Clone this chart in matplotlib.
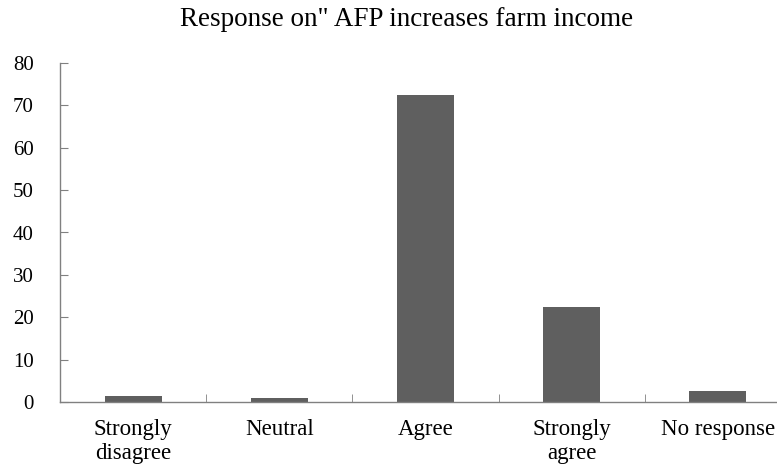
import matplotlib
matplotlib.use("Agg")
import matplotlib.pyplot as plt
import numpy as np

categories = ["Strongly\ndisagree", "Neutral", "Agree", "Strongly\nagree", "No response"]
values = [1.5, 1.0, 72.5, 22.5, 2.5]
yticks = [0, 10, 20, 30, 40, 50, 60, 70, 80]
title = "Response on\" AFP increases farm income"

plt.rcParams['font.family'] = ['Liberation Serif', 'DejaVu Serif']

W, H = 777, 469
fig = plt.figure(figsize=(W / 100, H / 100), dpi=100)
left, right, bottom, top = 60, 791, 402, 63
ax = fig.add_axes([left / W, (H - bottom) / H, (right - left) / W, (bottom - top) / H])

x = np.arange(len(categories))
ax.bar(x, values, width=0.39, color="#5f5f5f", zorder=2)
ax.set_xlim(-0.5, len(categories) - 0.5)
ax.set_ylim(0, 80)
ax.set_yticks(yticks)
ax.set_yticklabels([str(t) for t in yticks], fontsize=15)
ax.set_xticks(x)
ax.set_xticklabels(categories, fontsize=16.5, linespacing=1.2)
ax.set_xticks(np.arange(len(categories) - 1) + 0.5, minor=True)

ax.tick_params(axis='x', which='major', length=0, pad=12)
ax.tick_params(axis='x', which='minor', direction='in', length=6, color='#808080')
ax.tick_params(axis='y', direction='in', length=6, color='#808080', pad=19)
for lab in ax.get_yticklabels():
    lab.set_horizontalalignment('right')

for s in ['top', 'right']:
    ax.spines[s].set_visible(False)
for s in ['left', 'bottom']:
    ax.spines[s].set_color('#808080')
    ax.spines[s].set_linewidth(1.0)

fig.text(407 / W, 1 - 19 / H, title, ha='center', va='center', fontsize=19.5)

fig.savefig("out.png", dpi=100)
